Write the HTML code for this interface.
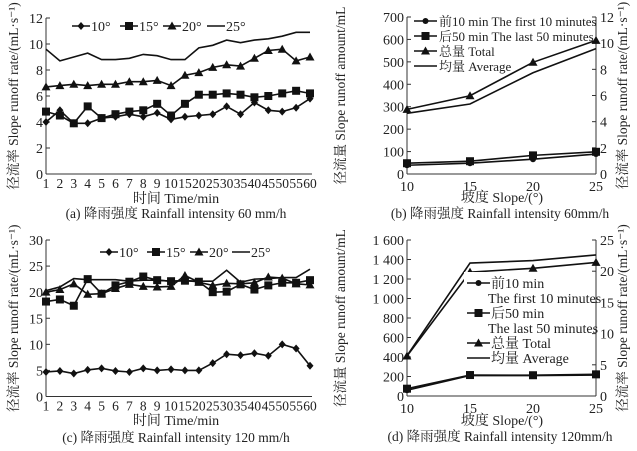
<!DOCTYPE html>
<html><head><meta charset="utf-8"><style>
body{margin:0;background:#fff}
svg{display:block}
text{font-family:"Liberation Serif","Noto Serif CJK SC",serif;fill:#222}
</style></head><body>
<svg id="fig" width="637" height="451" viewBox="0 0 637 451" xmlns="http://www.w3.org/2000/svg"></svg>
<script>
const timeCats=["1","2","3","4","5","6","7","8","9","10","15","20","25","30","35","40","45","50","55","60"];
const a10=[4.0,4.9,3.9,3.9,4.3,4.4,4.6,4.4,4.7,4.2,4.4,4.5,4.6,5.2,4.6,5.5,4.9,4.8,5.1,5.8];
const a15=[4.8,4.5,3.9,5.2,4.3,4.6,4.8,4.9,5.4,4.5,5.4,6.1,6.1,6.2,6.1,5.9,6.0,6.2,6.4,6.2];
const a20=[6.7,6.8,6.9,6.8,6.9,6.9,7.1,7.1,7.2,6.8,7.6,7.8,8.2,8.4,8.3,8.9,9.5,9.6,8.7,9.0];
const a25=[9.6,8.7,9.0,9.3,8.8,8.8,8.9,9.2,9.1,8.8,8.8,9.7,9.9,10.3,10.1,10.3,10.4,10.6,10.9,10.9];
const c10=[4.7,4.9,4.4,5.1,5.4,4.9,4.7,5.4,5.0,5.2,5.0,5.0,6.4,8.1,7.9,8.3,7.8,10.0,9.2,5.9];
const c15=[18.2,18.6,17.4,22.5,19.7,21.3,22.0,23.0,22.3,22.1,22.2,22.0,20.0,20.1,21.5,20.5,21.3,21.8,21.8,22.3];
const c20=[20.0,20.5,21.6,19.6,19.7,20.7,21.5,21.1,21.0,21.1,23.2,21.9,21.3,21.7,21.6,21.8,22.9,22.7,21.6,21.4];
const c25=[20.3,21.0,22.6,22.4,22.4,22.4,22.1,22.3,22.3,22.1,22.2,22.1,22.1,24.2,21.9,22.5,22.6,22.8,22.8,24.4];
const slopes=[10,15,20,25];
const bFirst=[39,48,66,89];
const bLast=[48,57,83,99];
const bTotal=[288,349,498,596];
const bAvg=[4.64,5.35,7.74,9.58];
const dFirst=[59,210,210,215];
const dLast=[75,215,213,222];
const dTotal=[410,1270,1310,1370];
const dAvg=[6.46,21.3,21.7,22.6];
const aTicks=[0,2,4,6,8,10,12];
const cTicks=[0,5,10,15,20,25,30];
const bTicks=[0,100,200,300,400,500,600,700];
const bRTicks=[0,2,4,6,8,10,12];
const dTicks=[0,200,400,600,800,1000,1200,1400,1600];
const dTickLabels=["0","200","400","600","800","1 000","1 200","1 400","1 600"];
const dRTicks=[0,5,10,15,20,25];

const NS="http://www.w3.org/2000/svg";
const svg=document.getElementById('fig');
function el(tag,attrs,parent){const e=document.createElementNS(NS,tag);for(const k in attrs)e.setAttribute(k,attrs[k]);(parent||svg).appendChild(e);return e;}
function txt(s,x,y,size,anchor,parent,rot){const t=el('text',{x:x,y:y,'font-size':size,'text-anchor':anchor||'middle'},parent);if(rot)t.setAttribute('transform','rotate(-90 '+x+' '+y+')');t.textContent=s;return t;}
function marker(type,x,y,g){
  if(type==='diamond')return el('polygon',{points:`${x},${y-4} ${x+3.5},${y} ${x},${y+4} ${x-3.5},${y}`,fill:'#111'},g);
  if(type==='square')return el('rect',{x:x-4,y:y-4,width:8,height:8,fill:'#111'},g);
  if(type==='triangle')return el('polygon',{points:`${x},${y-4.5} ${x+4.5},${y+3.5} ${x-4.5},${y+3.5}`,fill:'#111'},g);
  if(type==='circle')return el('circle',{cx:x,cy:y,r:3,fill:'#111'},g);
  return null;
}
function series(vals,xf,yf,type,name){
  const g=el('g',{});
  
  
  const pts=vals.map((v,i)=>[xf(i),yf(v)]);
  el('polyline',{points:pts.map(p=>p.join(',')).join(' '),fill:'none',stroke:'#111','stroke-width':1.6},g);
  pts.forEach(p=>{const m=marker(type,p[0],p[1],g);if(m){}});
}
function legendEntry(x1,x2,y,type,label,tx,name,size){
  const g=el('g',{});
  
  
  el('line',{x1:x1,y1:y,x2:x2,y2:y,stroke:'#111','stroke-width':1.6},g);
  marker(type,(x1+x2)/2,y,g);
  txt(label,tx,y+5,size||14,'start',g);
}
function axes(x0,x1,y0,y1,ticks,labels,yf){
  el('line',{x1:x0,y1:y1,x2:x0,y2:y0,stroke:'#333','stroke-width':1});
  el('line',{x1:x0,y1:y0,x2:x1,y2:y0,stroke:'#333','stroke-width':1});
  ticks.forEach((t,i)=>{const y=yf(t);el('line',{x1:x0,y1:y,x2:x0+4,y2:y,stroke:'#333'});const l=txt(labels[i],x0-3,y+5,14,'end');});
}
function rightAxis(x,y0,y1,ticks,yf){
  el('line',{x1:x,y1:y1,x2:x,y2:y0,stroke:'#333','stroke-width':1});
  ticks.forEach(t=>{const y=yf(t);el('line',{x1:x-4,y1:y,x2:x,y2:y,stroke:'#333'});const l=txt(String(t),x+4,y+5,14,'start');});
}

function timePanel(yTop,yBot,max,ticks,sets,xTitleY,capY,caption,legY,legXs){
  const x0=46,x1=310;
  const xf=i=>x0+i*(x1-x0)/(timeCats.length-1);
  const yf=v=>yBot-(v/max)*(yBot-yTop);
  axes(x0,x1+2,yBot,yTop,ticks,ticks.map(String),yf);
  timeCats.forEach((c,i)=>{const l=txt(c,xf(i),yBot+14,13.5,'middle');});
  const types=['diamond','square','triangle','none'];
  const labs=['10°','15°','20°','25°'];
  sets.forEach((s,k)=>series(s,xf,yf,types[k],'series-'+labs[k].replace('°','deg')));
  labs.forEach((l,k)=>legendEntry(legXs[k],legXs[k]+18,legY,types[k],l,legXs[k]+19,'legend-'+l.replace('°','deg')));
  txt('时间 Time/min',176,xTitleY,14,'middle');
  txt(caption,176,capY,13.5,'middle');
  txt('径流率 Slope runoff rate/(mL·s⁻¹)',18,(yTop+yBot)/2,13.5,'middle',null,true);
}
timePanel(18,174,12,aTicks,[a10,a15,a20,a25],203,218,'(a) 降雨强度 Rainfall intensity 60 mm/h',26,[72,120,163,207]);
timePanel(240,396.5,30,cTicks,[c10,c15,c20,c25],425,442,'(c) 降雨强度 Rainfall intensity 120 mm/h',252,[100,147,190,232]);

function slopePanel(yTop,yBot,max,ticks,tickLabels,rmax,rticks,first,last,total,avg,xTitleY,capY,caption,legend){
  const x0=407,x1=596;
  const xf=i=>x0+(slopes[i]-10)/15*(x1-x0);
  const yf=v=>yBot-(v/max)*(yBot-yTop);
  const yr=v=>yBot-(v/rmax)*(yBot-yTop);
  axes(x0,x1,yBot,yTop,ticks,tickLabels,yf);
  rightAxis(x1,yBot,yTop,rticks,yr);
  slopes.forEach((s,i)=>{const l=txt(String(s),xf(i),yBot+17,14,'middle');});
  series(first,xf,yf,'circle','series-first-10-min');
  series(last,xf,yf,'square','series-last-50-min');
  series(total,xf,yf,'triangle','series-total');
  series(avg,xf,yr,'none','series-average');
  legend(yf);
  txt('坡度 Slope/(°)',502,xTitleY,14,'middle');
  txt(caption,500,capY,13.5,'middle');
  txt('径流量 Slope runoff amount/mL',345,(yTop+yBot)/2,13.5,'middle',null,true);
  txt('径流率 Slope runoff rate/(mL·s⁻¹)',627,(yTop+yBot)/2,13.5,'middle',null,true);
}
slopePanel(17,174,700,bTicks,bTicks.map(String),12,bRTicks,bFirst,bLast,bTotal,bAvg,202,218,'(b) 降雨强度 Rainfall intensity 60mm/h',()=>{
  legendEntry(414,437,21,'circle','前10 min The first 10 minutes',439,'legend-first-10-min',13);
  legendEntry(414,437,36,'square','后50 min The last 50 minutes',439,'legend-last-50-min',13);
  legendEntry(414,437,51,'triangle','总量 Total',439,'legend-total',13);
  legendEntry(414,437,66,'none','均量 Average',439,'legend-average',13);
});
slopePanel(240,396,1600,dTicks,dTickLabels,25,dRTicks,dFirst,dLast,dTotal,dAvg,425,441,'(d) 降雨强度 Rainfall intensity 120mm/h',()=>{
  el('rect',{x:464,y:272,width:128,height:94,fill:'#fff'});
  legendEntry(467,490,283,'circle','前10 min',491,'legend-first-10-min');
  txt('The first 10 minutes',488,303,14,'start');
  legendEntry(467,490,313,'square','后50 min',491,'legend-last-50-min');
  txt('The last 50 minutes',488,333,14,'start');
  legendEntry(467,490,343,'triangle','总量 Total',491,'legend-total');
  legendEntry(467,490,358,'none','均量 Average',491,'legend-average');
});
</script>
</body></html>
